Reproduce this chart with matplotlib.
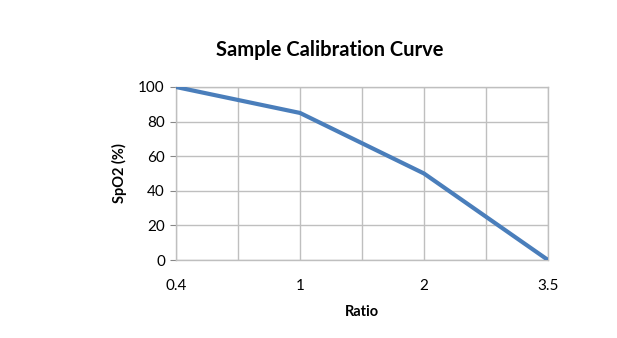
import numpy as np
import matplotlib
matplotlib.use("Agg")
import matplotlib.pyplot as plt

# data
ratio_labels = ["0.4", "1", "2", "3.5"]
spo2 = [100, 85, 50, 0]

plt.rcParams['font.family'] = ['Lato', 'DejaVu Sans']

fig = plt.figure(figsize=(6.17, 3.38), dpi=100)
ax = fig.add_axes([176/617, 1 - 260/338, (548 - 176)/617, (260 - 87)/338])

x = np.arange(len(spo2))
ax.plot(x, spo2, color='#4a7ebb', lw=3, solid_capstyle='butt', zorder=3)

ax.set_xlim(0, len(spo2) - 1)
ax.set_ylim(0, 100)
ax.set_yticks(np.arange(0, 101, 20))
ax.set_xticks(x)
ax.set_xticklabels(ratio_labels)
ax.set_xticks(np.arange(0, len(spo2) - 0.9, 0.5), minor=True)

grid_col = '#bfbfbf'
ax.grid(True, which='both', axis='x', color=grid_col, lw=1)
ax.grid(True, which='major', axis='y', color=grid_col, lw=1)
for s in ax.spines.values():
    s.set_color(grid_col)
    s.set_linewidth(1)
ax.tick_params(axis='y', length=4, color='#878787', labelsize=11, pad=4)
ax.tick_params(axis='x', which='both', length=0, labelsize=11, pad=14)

# title is centred on the chart area, not the plot area
fig.text(330/617, 1 - 50/338, "Sample Calibration Curve", fontsize=14.5,
         fontweight='bold', ha='center', va='center')
ax.set_xlabel("Ratio", fontsize=10.5, fontweight='bold', labelpad=8)
ax.set_ylabel("SpO2 (%)", fontsize=10.5, fontweight='bold', labelpad=8)

fig.savefig("out.png", dpi=100)
